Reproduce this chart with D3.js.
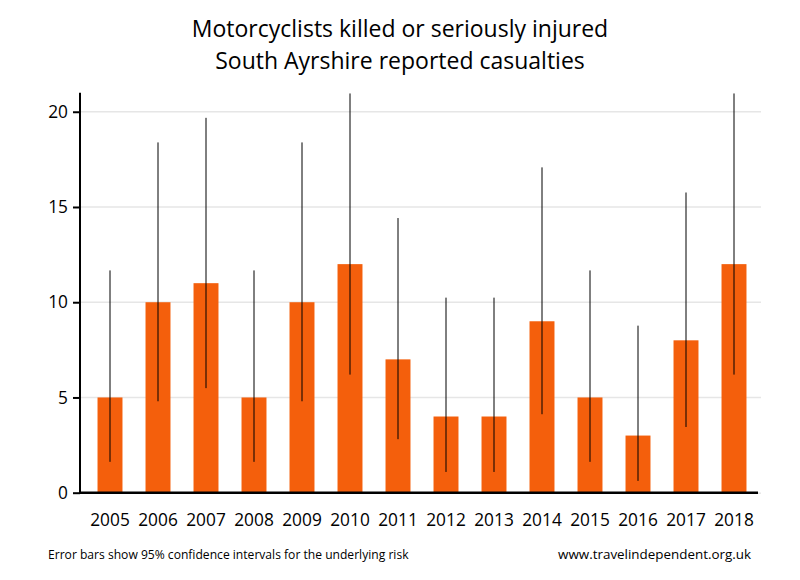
<!DOCTYPE html>
<html><head><meta charset="utf-8">
<script src="https://cdn.jsdelivr.net/npm/d3@7"></script>
<style>body{margin:0;background:#fff;} text{font-family:'Open Sans',sans-serif;}</style>
</head><body><svg id="c" width="800" height="580"></svg>
<script>
const years = ["2005","2006","2007","2008","2009","2010","2011","2012","2013","2014","2015","2016","2017","2018"];
const casualties = [5,10,11,5,10,12,7,4,4,9,5,3,8,12];
const ciLow  = [1.62,4.80,5.49,1.62,4.80,6.20,2.81,1.09,1.09,4.12,1.62,0.62,3.45,6.20];
const ciHigh = [11.67,18.39,19.68,11.67,18.39,20.96,14.42,10.24,10.24,17.08,11.67,8.77,15.76,20.96];
const yTicks = [0,5,10,15,20];
const titleLines = ["Motorcyclists killed or seriously injured","South Ayrshire reported casualties"];
const FONT = "'Open Sans',sans-serif";

const svg = d3.select("#c");
const x = d3.scaleBand().domain(years).range([86,758]).paddingInner(0.48).paddingOuter(0.24);
const y = d3.scaleLinear().domain([0,21]).range([492.7,92.7]);

svg.append("g").selectAll("line").data(yTicks.filter(d=>d>0)).join("line")
  .attr("x1",80).attr("x2",761).attr("y1",d=>y(d)).attr("y2",d=>y(d))
  .attr("stroke","#e6e6e6").attr("stroke-width",1.5);
svg.append("line").attr("x1",758).attr("x2",761).attr("y1",y(0)+0.5).attr("y2",y(0)+0.5)
  .attr("stroke","#e6e6e6").attr("stroke-width",1.5);

svg.append("g").selectAll("rect").data(years).join("rect")
  .attr("x",d=>x(d)).attr("width",x.bandwidth())
  .attr("y",(d,i)=>y(casualties[i])).attr("height",(d,i)=>y(0)-y(casualties[i]))
  .attr("fill","#f45f0c");

svg.append("g").selectAll("line").data(years).join("line")
  .attr("x1",d=>x(d)+x.bandwidth()/2).attr("x2",d=>x(d)+x.bandwidth()/2)
  .attr("y1",(d,i)=>y(ciLow[i])).attr("y2",(d,i)=>y(Math.min(ciHigh[i],21)))
  .attr("stroke","#000").attr("stroke-width",1);

const ya = svg.append("g").attr("transform","translate(80,0)")
  .call(d3.axisLeft(y).tickValues(yTicks).tickSize(7).tickPadding(5));
ya.select(".domain").attr("stroke","#000").attr("stroke-width",2).attr("d",`M0,${y(21)}V${y(0)+1}`);
ya.selectAll(".tick line").attr("stroke","#000").attr("stroke-width",2);
ya.selectAll(".tick text").attr("font-size",17.3).attr("fill","#000").style("font-family",FONT);

const xa = svg.append("g").attr("transform",`translate(0,${y(0)})`)
  .call(d3.axisBottom(x).tickSize(0).tickPadding(21));
xa.select(".domain").attr("stroke","#000").attr("stroke-width",2.5).attr("d","M79,0H758");
xa.selectAll(".tick text").attr("font-size",17.3).attr("fill","#000").style("font-family",FONT);

svg.append("g").selectAll("text").data(titleLines).join("text")
  .attr("x",400).attr("y",(d,i)=>37+i*31.5).attr("text-anchor","middle")
  .attr("font-size",23).attr("fill","#000").text(d=>d);

svg.append("text").attr("x",48).attr("y",559).attr("font-size",12.1).attr("fill","#000")
  .text("Error bars show 95% confidence intervals for the underlying risk");
svg.append("text").attr("x",751).attr("y",559).attr("text-anchor","end").attr("font-size",13.4).attr("fill","#000")
  .text("www.travelindependent.org.uk");
</script></body></html>
